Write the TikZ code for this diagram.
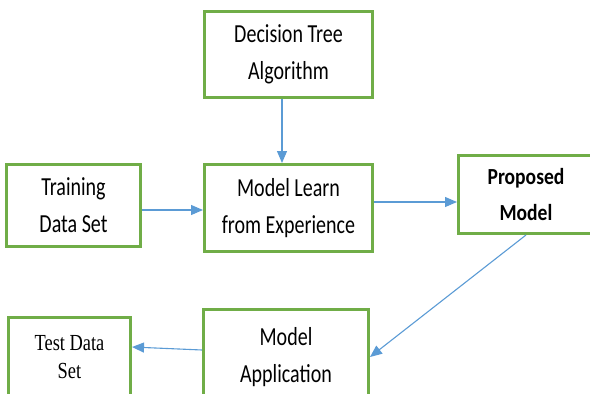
\documentclass[tikz,border=0pt]{standalone}
\usepackage{fontspec}
\setmainfont{Carlito}
\newfontfamily\boxfont[FakeStretch=0.77]{Carlito}
\newfontfamily\boldboxfont[FakeStretch=0.85]{Carlito}
\newfontfamily\serifboxfont[FakeStretch=0.8]{Liberation Serif}
\usetikzlibrary{arrows.meta,calc}
\definecolor{boxgreen}{HTML}{70AD47}
\definecolor{flowblue}{HTML}{5B9BD5}
\begin{document}
\begin{tikzpicture}[x=1pt,y=-1pt,
  box/.style={draw=boxgreen, line width=2.6pt, fill=white, inner sep=0pt,
    align=center, font=\boxfont\fontsize{26}{37}\selectfont},
  boldbox/.style={box, font=\boldboxfont\bfseries\fontsize{23}{36}\selectfont},
  serifbox/.style={box, font=\serifboxfont\fontsize{23}{28}\selectfont},
  flow/.style={draw=flowblue, line width=1.1pt,
    -{Triangle[length=12pt,width=10pt]}}]
\useasboundingbox (0,0) rectangle (590,394);
\clip (0,0) rectangle (590,394);

% process boxes
\node[box, minimum width=168.4pt, minimum height=86.4pt] (dt) at (288.5,54.5) {Decision Tree\\Algorithm};
\node[box, minimum width=134.4pt, minimum height=82.4pt] (trn) at (73.5,205.5) {Training\\Data Set};
\node[box, minimum width=168.4pt, minimum height=87.4pt] (mle) at (288.5,208) {Model Learn\\from Experience};
\node[boldbox, minimum width=135.4pt, minimum height=78.4pt] (pm) at (526,194.5) {Proposed\\Model};
\node[box, minimum width=165.4pt, minimum height=95.4pt] (ma) at (286,357) {Model\\Application};
\node[serifbox, minimum width=122.4pt, minimum height=79.4pt] (test) at (69.5,357) {Test Data\\Set};

% data flow
\draw[flow] ($(dt.south)+(-6.5,0)$) -- ($(mle.north)+(-6.5,0)$);
\draw[flow] ($(trn.east)+(0,4.5)$) -- ($(mle.west)+(0,2)$);
\draw[flow] ($(mle.east)+(0,-6)$) -- ($(pm.west)+(0,7.5)$);
\draw[flow] (pm.south) -- (ma.east);
\draw[flow] ($(ma.west)+(0,-7)$) -- ($(test.east)+(0,-10)$);
\end{tikzpicture}
\end{document}
